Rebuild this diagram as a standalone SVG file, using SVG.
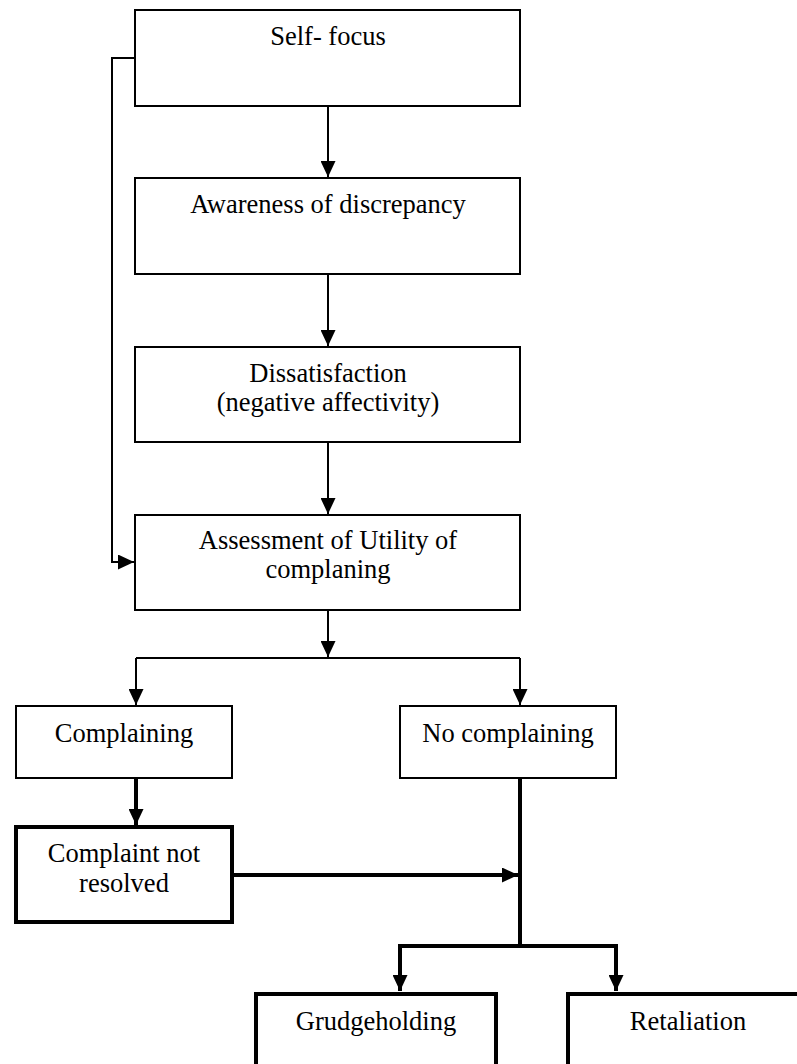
<svg xmlns="http://www.w3.org/2000/svg" width="797" height="1064" viewBox="0 0 797 1064">
<style>
.box{fill:#fff;stroke:#000;stroke-width:2}
.bold{fill:#fff;stroke:#000;stroke-width:4}
.ln{fill:none;stroke:#000;stroke-width:2}
.lnb{fill:none;stroke:#000;stroke-width:4}
text{font-family:"Liberation Serif","Times New Roman",serif;font-size:26.5px;fill:#000;text-anchor:middle}
</style>
<defs>
<marker id="ah" markerUnits="userSpaceOnUse" markerWidth="16" markerHeight="15" refX="16" refY="7.5" orient="auto">
<path d="M0,0 L16,7.5 L0,15 z" fill="#000"/>
</marker>
</defs>
<rect width="797" height="1064" fill="#fff"/>
<g id="connectors">
<path class="ln" d="M135,58 H112 V562 H134" marker-end="url(#ah)"/>
<path class="ln" d="M328,106 V177" marker-end="url(#ah)"/>
<path class="ln" d="M328,274 V346" marker-end="url(#ah)"/>
<path class="ln" d="M328,442 V514" marker-end="url(#ah)"/>
<path class="ln" d="M328,610 V657" marker-end="url(#ah)"/>
<path class="ln" d="M136,658 H520"/>
<path class="ln" d="M136,658 V705" marker-end="url(#ah)"/>
<path class="ln" d="M520,658 V705" marker-end="url(#ah)"/>
<path class="lnb" d="M136,778 V825" marker-end="url(#ah)"/>
<path class="lnb" d="M232,875 H518" marker-end="url(#ah)"/>
<path class="lnb" d="M520,778 V946"/>
<path class="lnb" d="M398,946 H618"/>
<path class="lnb" d="M400,946 V991" marker-end="url(#ah)"/>
<path class="lnb" d="M616,946 V991" marker-end="url(#ah)"/>
</g>
<g id="self-focus">
<rect class="box" x="135" y="10" width="385" height="96"/>
<text x="328" y="45">Self- focus</text>
</g>
<g id="awareness">
<rect class="box" x="135" y="178" width="385" height="96"/>
<text x="328" y="213">Awareness of discrepancy</text>
</g>
<g id="dissatisfaction">
<rect class="box" x="135" y="347" width="385" height="95"/>
<text x="328" y="382">Dissatisfaction</text>
<text x="328" y="411">(negative affectivity)</text>
</g>
<g id="assessment">
<rect class="box" x="135" y="515" width="385" height="95"/>
<text x="328" y="549">Assessment of Utility of</text>
<text x="328" y="578">complaning</text>
</g>
<g id="complaining">
<rect class="box" x="16" y="706" width="216" height="72"/>
<text x="124" y="742">Complaining</text>
</g>
<g id="no-complaining">
<rect class="box" x="400" y="706" width="216" height="72"/>
<text x="508" y="742">No complaining</text>
</g>
<g id="complaint-not-resolved">
<rect class="bold" x="16" y="827" width="216" height="95"/>
<text x="124" y="862">Complaint not</text>
<text x="124" y="892">resolved</text>
</g>
<g id="grudgeholding">
<rect class="bold" x="256" y="994" width="240" height="100"/>
<text x="376" y="1030">Grudgeholding</text>
</g>
<g id="retaliation">
<rect class="bold" x="568" y="994" width="240" height="100"/>
<text x="688" y="1030">Retaliation</text>
</g>
</svg>
